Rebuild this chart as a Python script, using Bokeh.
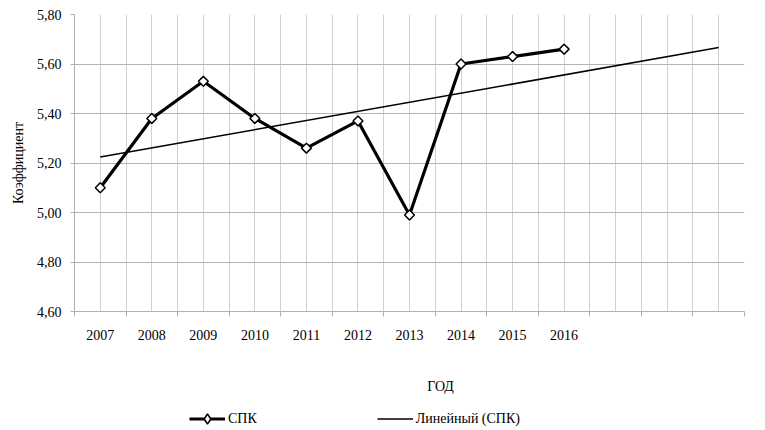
import numpy as np
from bokeh.plotting import figure
from bokeh.layouts import column
from bokeh.models import FixedTicker, Legend, LegendItem, Range1d, Label
from bokeh.embed import file_html
from bokeh.resources import INLINE

years = ["2007", "2008", "2009", "2010", "2011", "2012", "2013", "2014", "2015", "2016"]
spk = [5.10, 5.38, 5.53, 5.38, 5.26, 5.37, 4.99, 5.60, 5.63, 5.66]
forecast_periods = 3
y_ticks = [4.6, 4.8, 5.0, 5.2, 5.4, 5.6, 5.8]
y_labels = ["4,60", "4,80", "5,00", "5,20", "5,40", "5,60", "5,80"]
x_title = "ГОД"
y_title = "Коэффициент"
series_name = "СПК"
trend_name = "Линейный (СПК)"

FONT = "Liberation Serif"

n = len(years)
xs = list(range(1, n + 1))
n_total = n + forecast_periods

# linear trend (least squares), extended forward
slope, intercept = np.polyfit(xs, spk, 1)
trend_x = [1, n_total]
trend_y = [intercept + slope * t for t in trend_x]

p = figure(width=765, height=345, output_backend="svg", toolbar_location=None,
           x_range=Range1d(0.5, n_total + 0.5), y_range=Range1d(4.6, 5.8),
           min_border_left=74, min_border_right=21, min_border_top=14,
           min_border_bottom=34)
p.outline_line_color = None
p.background_fill_color = "white"

# grids
p.xgrid.ticker = FixedTicker(ticks=[0.5 + 0.5 * i for i in range(2 * n_total + 1)])
p.xgrid.grid_line_color = "#d0d0d0"
p.xgrid.grid_line_width = 1
p.ygrid.ticker = FixedTicker(ticks=y_ticks)
p.ygrid.grid_line_color = "#b4b4b4"
p.ygrid.grid_line_width = 1

# x axis
p.xaxis.ticker = FixedTicker(ticks=xs, minor_ticks=[0.5 + i for i in range(n_total + 1)])
p.xaxis.major_label_overrides = {x: y for x, y in zip(xs, years)}
p.xaxis.major_tick_out = 0
p.xaxis.major_tick_in = 0
p.xaxis.minor_tick_out = 5
p.xaxis.minor_tick_in = 0
p.xaxis.minor_tick_line_color = "#b0b0b0"
p.xaxis.axis_line_color = "#b0b0b0"
p.xaxis.major_label_standoff = 13

# y axis
p.yaxis.ticker = FixedTicker(ticks=y_ticks)
p.yaxis.major_label_overrides = {t: l for t, l in zip(y_ticks, y_labels)}
p.yaxis.major_tick_out = 4
p.yaxis.major_tick_in = 0
p.yaxis.minor_tick_line_color = None
p.yaxis.major_tick_line_color = "#b0b0b0"
p.yaxis.axis_line_color = "#b0b0b0"
p.yaxis.major_label_standoff = 9
p.yaxis.axis_label = y_title
p.yaxis.axis_label_standoff = 8

for ax in (p.xaxis, p.yaxis):
    ax.major_label_text_font = FONT
    ax.major_label_text_font_size = "14px"
    ax.major_label_text_color = "black"
    ax.axis_label_text_font = FONT
    ax.axis_label_text_font_size = "14px"
    ax.axis_label_text_font_style = "normal"
    ax.axis_label_text_color = "black"

line_style = dict(line_color="black", line_width=3.2)
marker_style = dict(marker="square", angle=np.pi / 4, size=7,
                    fill_color="white", line_color="black", line_width=1.5)
trend_style = dict(line_color="black", line_width=1.5)

# trend line
p.line(trend_x, trend_y, **trend_style)

# data series
p.line(xs, spk, **line_style)
p.scatter(xs, spk, **marker_style)

# strip below the chart: x axis title and legend (renderers lie outside ranges)
q = figure(width=765, height=85, output_backend="svg", toolbar_location=None,
           x_range=Range1d(-2, -1), y_range=Range1d(0, 1),
           min_border_left=0, min_border_right=0, min_border_top=0,
           min_border_bottom=0)
q.axis.visible = False
q.grid.visible = False
q.outline_line_color = None

q.add_layout(Label(x=366, y=44, x_units="screen", y_units="screen",
                   text=x_title, text_align="center", text_baseline="middle",
                   text_font=FONT, text_font_size="14px", text_color="black"))

lq = q.line(xs, spk, **line_style)
mq = q.scatter(xs, spk, marker="diamond", fill_color="white",
               line_color="black", line_width=1.5)
tq = q.line(trend_x, trend_y, **trend_style)

legend = Legend(items=[LegendItem(label=series_name, renderers=[lq, mq]),
                       LegendItem(label=trend_name, renderers=[tq])],
                orientation="horizontal", location=(115, -1),
                glyph_width=36, glyph_height=25, label_height=14,
                label_standoff=3, spacing=120, padding=0, margin=0,
                border_line_color=None, background_fill_alpha=0,
                label_text_font=FONT, label_text_font_size="14px",
                label_text_color="black")
q.add_layout(legend)

open("out.html", "w").write(file_html(column(p, q, spacing=0), INLINE))
